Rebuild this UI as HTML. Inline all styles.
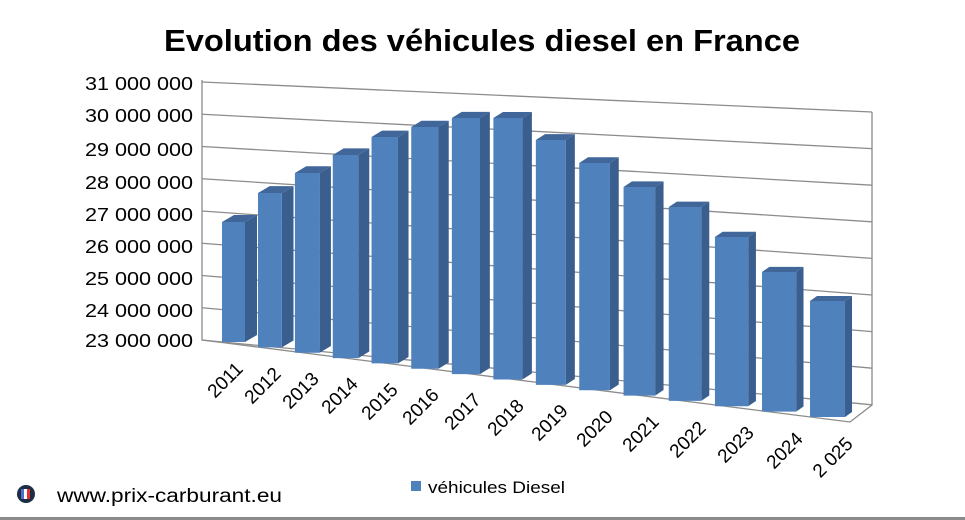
<!DOCTYPE html>
<html><head><meta charset="utf-8"><style>
body{margin:0;background:#fff;}
svg{display:block;font-family:"Liberation Sans",sans-serif;}
</style></head><body>
<svg id="s" width="965" height="520" viewBox="0 0 965 520" xmlns="http://www.w3.org/2000/svg">
<rect width="965" height="520" fill="#fff"/>
<text x="482" y="51" text-anchor="middle" font-size="31" font-weight="bold" textLength="636" lengthAdjust="spacingAndGlyphs">Evolution des véhicules diesel en France</text>
<g id="grid" stroke="#8c8c8c" stroke-width="1.3" fill="none">
<polyline points="202,80 202,340 218,342 850,422 872,405 872,112"/>
</g>
<g font-size="18" text-anchor="end" fill="#000">
<text x="193" y="90" textLength="108" lengthAdjust="spacingAndGlyphs">31 000 000</text>
<text x="193" y="122" textLength="108" lengthAdjust="spacingAndGlyphs">30 000 000</text>
<text x="193" y="156" textLength="108" lengthAdjust="spacingAndGlyphs">29 000 000</text>
<text x="193" y="189" textLength="108" lengthAdjust="spacingAndGlyphs">28 000 000</text>
<text x="193" y="221" textLength="108" lengthAdjust="spacingAndGlyphs">27 000 000</text>
<text x="193" y="253" textLength="108" lengthAdjust="spacingAndGlyphs">26 000 000</text>
<text x="193" y="285" textLength="108" lengthAdjust="spacingAndGlyphs">25 000 000</text>
<text x="193" y="317" textLength="108" lengthAdjust="spacingAndGlyphs">24 000 000</text>
<text x="193" y="347" textLength="108" lengthAdjust="spacingAndGlyphs">23 000 000</text>
</g>
<g id="bars"></g>
<g font-size="19" fill="#000" text-anchor="end">
<text transform="translate(244,370) rotate(-45)">2011</text>
<text transform="translate(282,375) rotate(-45)">2012</text>
<text transform="translate(320,380) rotate(-45)">2013</text>
<text transform="translate(359,385) rotate(-45)">2014</text>
<text transform="translate(399,391) rotate(-45)">2015</text>
<text transform="translate(440,396) rotate(-45)">2016</text>
<text transform="translate(482,401) rotate(-45)">2017</text>
<text transform="translate(525,407) rotate(-45)">2018</text>
<text transform="translate(569,412) rotate(-45)">2019</text>
<text transform="translate(614,418) rotate(-45)">2020</text>
<text transform="translate(660,423) rotate(-45)">2021</text>
<text transform="translate(707,429) rotate(-45)">2022</text>
<text transform="translate(755,434) rotate(-45)">2023</text>
<text transform="translate(804,440) rotate(-45)">2024</text>
<text transform="translate(854,445) rotate(-45)">2 025</text>
</g>
<rect x="411" y="481" width="10" height="10" fill="#4f81bd"/>
<text x="428" y="493" font-size="17" textLength="137" lengthAdjust="spacingAndGlyphs">véhicules Diesel</text>
<circle cx="26" cy="494" r="9" fill="#1f2d44"/>
<rect x="21" y="489" width="3" height="10" fill="#4a6fd0"/>
<rect x="24" y="489" width="3" height="10" fill="#fff"/>
<rect x="27" y="489" width="3" height="10" fill="#e03030"/>
<text x="57" y="502" font-size="19" textLength="225" lengthAdjust="spacingAndGlyphs">www.prix-carburant.eu</text>
<rect x="0" y="517" width="965" height="3" fill="#8a8a8a"/>
</svg>
<script>
var NS="http://www.w3.org/2000/svg";
var g=document.getElementById("grid");
for(var i=0;i<9;i++){var yl=82+32.25*i,yr=112+36.6*i;
var l=document.createElementNS(NS,"line");l.setAttribute("x1",202);l.setAttribute("y1",yl);l.setAttribute("x2",872);l.setAttribute("y2",yr);g.appendChild(l);}
var tops=[222,193,173,155,137,127,118,118,140,163,187,207,237,272,301];
var b=document.getElementById("bars");
function poly(p,c){var e=document.createElementNS(NS,"polygon");e.setAttribute("points",p);e.setAttribute("fill",c);b.appendChild(e);}
for(var i=0;i<15;i++){
var L=222+35.54*i+0.4615*i*i,w=23+i*12/14,B=342+i*75/14,T=tops[i],dx=12-i*5/14,dy=7-i*2/14;
var R=L+w;
poly(R+","+T+" "+(R+dx)+","+(T-dy)+" "+(R+dx)+","+(B-dy)+" "+R+","+B,"#3a5f8e");
poly(L+","+T+" "+(L+dx)+","+(T-dy)+" "+(R+dx)+","+(T-dy)+" "+R+","+T,"#41679a");
poly(L+","+T+" "+R+","+T+" "+R+","+B+" "+L+","+B,"#4f81bd");
}
</script>
</body></html>
